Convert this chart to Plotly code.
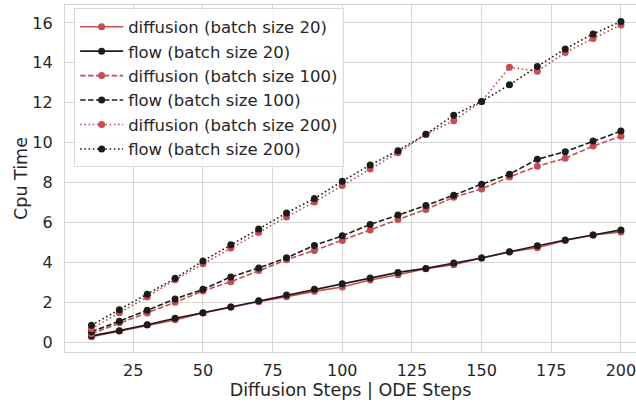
import plotly.graph_objects as go

steps = [10, 20, 30, 40, 50, 60, 70, 80, 90, 100, 110, 120, 130, 140, 150, 160, 170, 180, 190, 200]

diffusion_20 = [0.28, 0.56, 0.86, 1.12, 1.47, 1.76, 2.03, 2.28, 2.55, 2.77, 3.12, 3.38, 3.68, 3.88, 4.22, 4.52, 4.73, 5.10, 5.37, 5.53]
flow_20 = [0.32, 0.58, 0.88, 1.20, 1.48, 1.77, 2.08, 2.37, 2.65, 2.93, 3.22, 3.50, 3.70, 3.97, 4.22, 4.53, 4.83, 5.12, 5.37, 5.63]
diffusion_100 = [0.43, 0.97, 1.47, 2.00, 2.57, 3.03, 3.60, 4.13, 4.60, 5.10, 5.63, 6.15, 6.65, 7.27, 7.68, 8.28, 8.82, 9.22, 9.83, 10.32]
flow_100 = [0.52, 1.05, 1.60, 2.17, 2.65, 3.27, 3.72, 4.23, 4.85, 5.33, 5.90, 6.37, 6.85, 7.37, 7.92, 8.42, 9.17, 9.55, 10.08, 10.58]
diffusion_200 = [0.68, 1.48, 2.27, 3.13, 3.93, 4.72, 5.50, 6.28, 7.03, 7.85, 8.68, 9.50, 10.42, 11.10, 12.07, 13.78, 13.58, 14.52, 15.22, 15.90]
flow_200 = [0.85, 1.63, 2.40, 3.20, 4.07, 4.88, 5.68, 6.48, 7.20, 8.07, 8.88, 9.60, 10.42, 11.38, 12.07, 12.90, 13.82, 14.70, 15.45, 16.07]

series = [
    ("diffusion (batch size 20)", diffusion_20, "#c44e52", "solid"),
    ("flow (batch size 20)", flow_20, "#1c1c1c", "solid"),
    ("diffusion (batch size 100)", diffusion_100, "#c44e52", "5.5px,2.4px"),
    ("flow (batch size 100)", flow_100, "#1c1c1c", "5.5px,2.4px"),
    ("diffusion (batch size 200)", diffusion_200, "#c44e52", "1.6px,2.6px"),
    ("flow (batch size 200)", flow_200, "#1c1c1c", "1.6px,2.6px"),
]

fig = go.Figure()
for name, vals, color, dash in series:
    fig.add_trace(go.Scatter(
        x=steps, y=vals, name=name, mode="lines+markers",
        line=dict(color=color, width=1.6, dash=dash),
        marker=dict(color=color, size=7, symbol="circle"),
    ))

font = "DejaVu Sans, sans-serif"
fig.update_layout(
    width=636, height=404,
    margin=dict(l=65, r=0, t=5, b=52),
    paper_bgcolor="white", plot_bgcolor="white",
    font=dict(family=font, size=16, color="#262626"),
    showlegend=True,
    legend=dict(
        x=0.016, y=0.99, xanchor="left", yanchor="top",
        bgcolor="rgba(255,255,255,0.85)", bordercolor="#d9d9d9", borderwidth=1,
        font=dict(family=font, size=16.5, color="#262626"),
        tracegroupgap=0, itemwidth=43,
    ),
    xaxis=dict(
        range=[0.5, 205.4], tickvals=[25, 50, 75, 100, 125, 150, 175, 200],
        showgrid=True, gridcolor="#d6d6d6", gridwidth=1.2,
        zeroline=False, showline=True, linecolor="#d6d6d6", linewidth=1.2, mirror=True,
        ticks="", ticklabelstandoff=4, ticklabeloverflow="allow",
        title=dict(text="Diffusion Steps | ODE Steps", font=dict(size=17.5), standoff=0),
        tickfont=dict(size=16),
    ),
    yaxis=dict(
        range=[-0.49, 16.9], tickvals=[0, 2, 4, 6, 8, 10, 12, 14, 16],
        showgrid=True, gridcolor="#d6d6d6", gridwidth=1.2,
        zeroline=False, showline=True, linecolor="#d6d6d6", linewidth=1.2, mirror=True,
        ticks="", ticklabelstandoff=8,
        title=dict(text="Cpu Time", font=dict(size=17.5), standoff=0),
        tickfont=dict(size=16),
    ),
)

fig.write_html("out.html", config={"displayModeBar": False},
               post_script="document.body.style.margin='0';")
